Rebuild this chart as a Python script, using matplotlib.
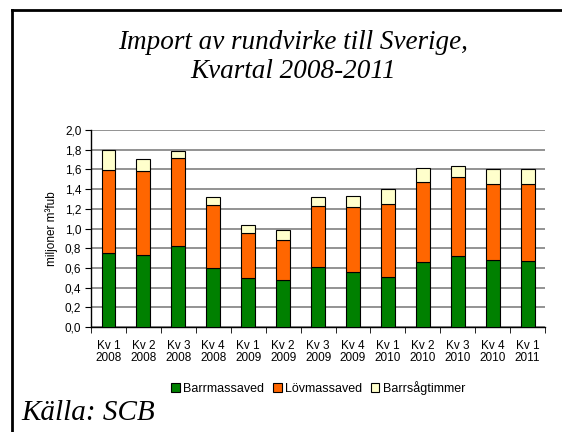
import matplotlib

matplotlib.use("Agg")
import matplotlib.pyplot as plt
import numpy as np
from matplotlib.lines import Line2D

quarters = ["Kv 1\n2008", "Kv 2\n2008", "Kv 3\n2008", "Kv 4\n2008",
            "Kv 1\n2009", "Kv 2\n2009", "Kv 3\n2009", "Kv 4\n2009",
            "Kv 1\n2010", "Kv 2\n2010", "Kv 3\n2010", "Kv 4\n2010",
            "Kv 1\n2011"]
barrmassaved = [0.75, 0.73, 0.82, 0.60, 0.50, 0.48, 0.61, 0.56, 0.51, 0.66, 0.72, 0.68, 0.67]
lovmassaved = [0.84, 0.855, 0.90, 0.64, 0.45, 0.40, 0.62, 0.66, 0.74, 0.81, 0.80, 0.77, 0.78]
barrsagtimmer = [0.21, 0.125, 0.065, 0.08, 0.09, 0.10, 0.09, 0.11, 0.15, 0.145, 0.11, 0.155, 0.155]

GREEN = "#008000"
ORANGE = "#FF6600"
CREAM = "#FFFFCC"
SANS = "Liberation Sans"
SERIF = "Liberation Serif"

fig = plt.figure(figsize=(5.62, 4.32), dpi=100)
ax = fig.add_axes([0.162, 0.243, 0.808, 0.456])

x = np.arange(len(quarters))
w = 0.4
b1 = np.array(barrmassaved)
b2 = np.array(lovmassaved)
kw = dict(width=w, edgecolor="black", linewidth=0.8, zorder=3)
ax.bar(x, b1, color=GREEN, label="Barrmassaved", **kw)
ax.bar(x, b2, bottom=b1, color=ORANGE, label="Lövmassaved", **kw)
ax.bar(x, barrsagtimmer, bottom=b1 + b2, color=CREAM, label="Barrsågtimmer", **kw)

ax.set_xlim(-0.5, len(quarters) - 0.5)
ax.set_ylim(0, 2.0)
ax.set_yticks(np.arange(0, 2.01, 0.2))
ax.set_yticklabels([f"{v:.1f}".replace(".", ",") for v in np.arange(0, 2.01, 0.2)],
                   fontsize=8.5, family=SANS)
ax.yaxis.grid(True, color="#808080", linewidth=1.2, zorder=0)
ax.set_axisbelow(True)

ax.set_xticks(x)
ax.set_xticklabels(quarters, fontsize=8.5, family=SANS, linespacing=1.0)
ax.tick_params(axis="x", length=0, pad=9)
ax.set_xticks(np.arange(-0.5, len(quarters)), minor=True)
ax.tick_params(axis="x", which="minor", length=4, direction="out")
ax.tick_params(axis="y", length=4, direction="out", pad=3)

for s in ["top", "right"]:
    ax.spines[s].set_visible(False)
ax.spines["left"].set_linewidth(1.0)
ax.spines["bottom"].set_linewidth(1.0)

ax.set_ylabel("miljoner m³fub", fontsize=8.5, family=SANS, labelpad=5)

fig.text(0.521, 0.868, "Import av rundvirke till Sverige,\nKvartal 2008-2011",
         ha="center", va="center", fontsize=19.5, style="italic", family=SERIF,
         linespacing=1.25)

ax.legend(loc="upper center", bbox_to_anchor=(0.5, -0.25), ncol=3, frameon=False,
          prop={"family": SANS, "size": 9}, handlelength=0.7, handleheight=0.7,
          handletextpad=0.25, columnspacing=0.7, borderaxespad=0)

fig.text(0.038, 0.044, "Källa: SCB", ha="left", va="center", fontsize=21,
         style="italic", family=SERIF)

fig.add_artist(Line2D([0.022, 1.0], [0.977, 0.977], transform=fig.transFigure,
                      color="black", linewidth=2))
fig.add_artist(Line2D([0.022, 0.022], [0.0, 0.977], transform=fig.transFigure,
                      color="black", linewidth=2))

fig.savefig("out.png", dpi=100)
